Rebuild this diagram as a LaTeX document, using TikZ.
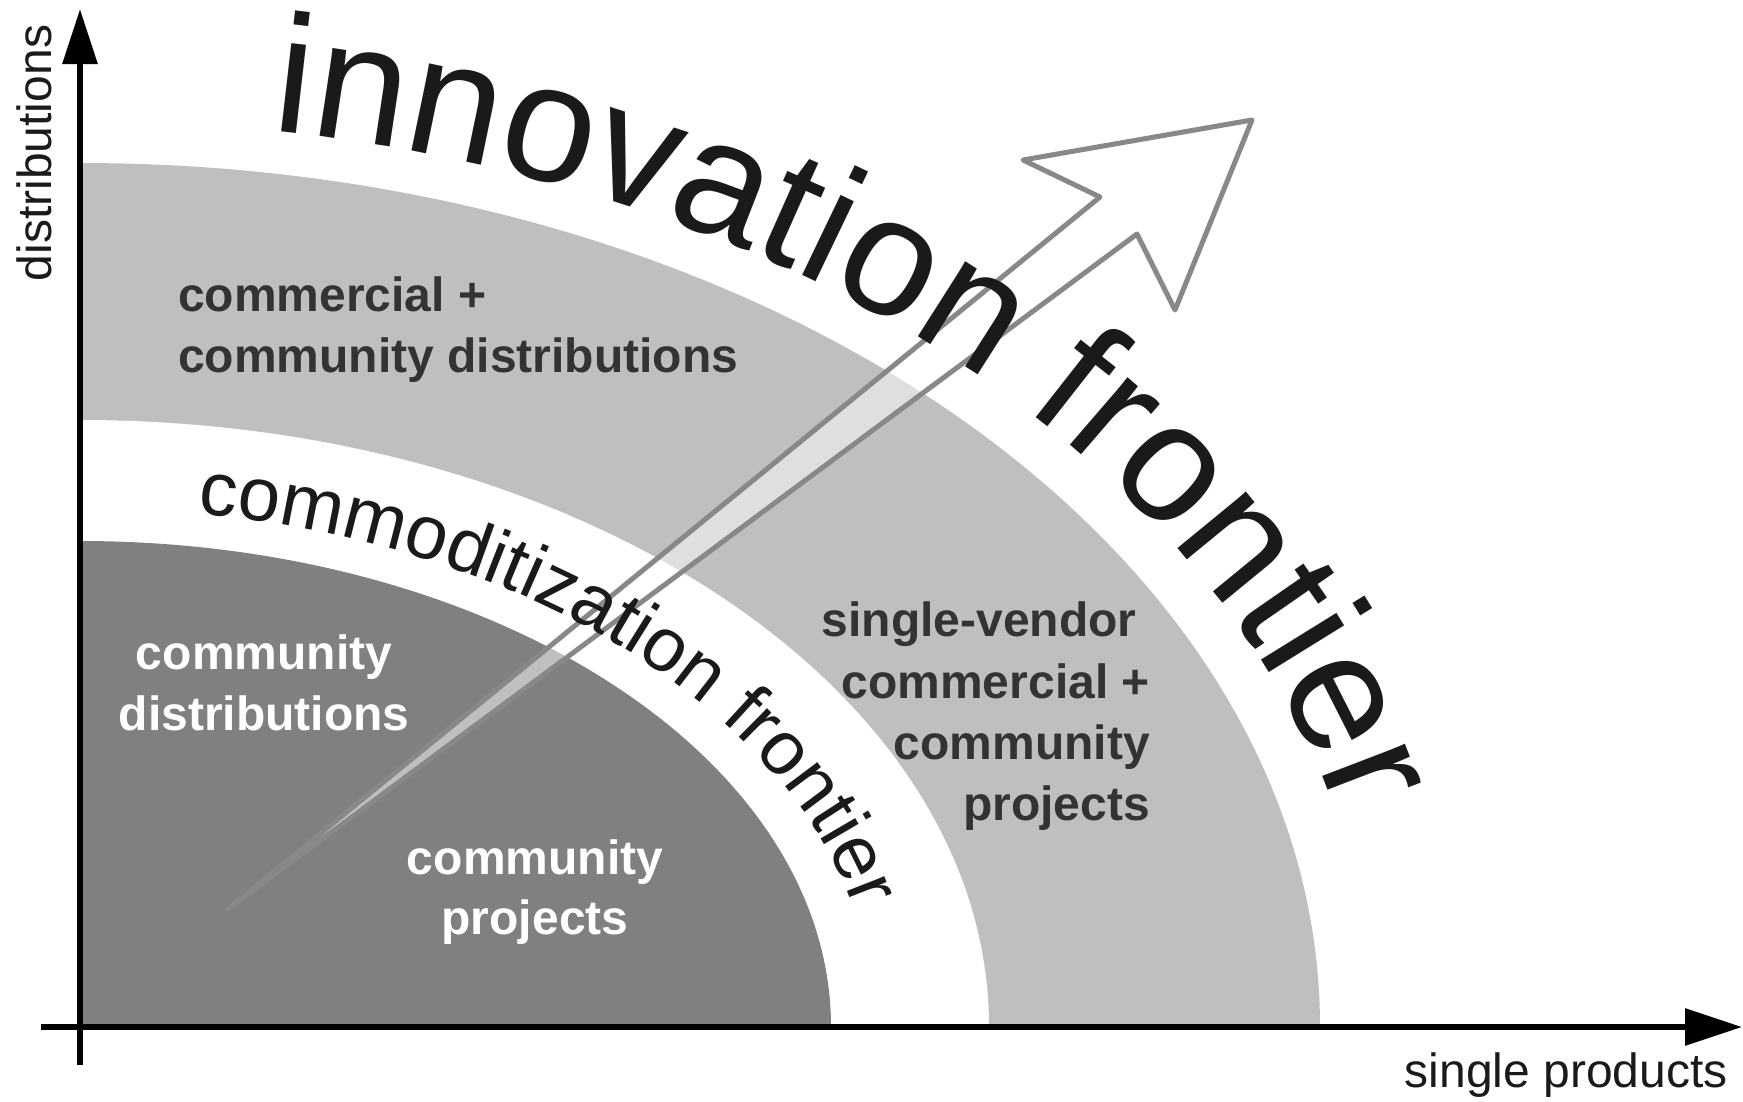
\documentclass[tikz,border=0pt]{standalone}
\usepackage{fontspec}
\setmainfont{Liberation Sans}
\usetikzlibrary{arrows.meta,decorations.text}
\definecolor{lightg}{HTML}{BFBFBF}
\definecolor{darkg}{HTML}{808080}
\definecolor{txtg}{HTML}{333333}
\definecolor{arrg}{HTML}{888888}
\definecolor{bigtxt}{HTML}{1A1A1A}
\newcommand\innofont{\fontsize{168}{168}\selectfont}
\newcommand\commfont{\fontsize{76}{76}\selectfont}
\begin{document}
\begin{tikzpicture}[x=1pt,y=1pt,
  lab/.style={font=\fontsize{48}{58}\selectfont\bfseries, text=txtg, inner sep=0pt},
  wlab/.style={lab, text=white},
  axislabel/.style={font=\fontsize{48}{48}\selectfont, text=bigtxt, inner sep=0pt},
  axisline/.style={line width=6pt, -{Triangle[length=55pt,width=34pt]}},
  arrowshape/.style={fill=white, fill opacity=0.5, draw=arrg, draw opacity=1, line width=5pt, line join=round}]
\useasboundingbox (0,-1101) rectangle (1743,0);
\coordinate (O) at (80,-1027);
% regions
\fill[lightg] (O) -- ++(1240,0) arc[start angle=0,end angle=90,x radius=1240,y radius=864] -- cycle;
\fill[white] (O) -- ++(909,0) arc[start angle=0,end angle=90,x radius=909,y radius=607] -- cycle;
\fill[darkg] (O) -- ++(751,0) arc[start angle=0,end angle=90,x radius=751,y radius=486] -- cycle;
% big arrow
\coordinate (T) at (228,-909);
\coordinate (N1) at (1100,-197);
\coordinate (B1) at (1023,-160);
\coordinate (P) at (1252,-120);
\coordinate (B2) at (1175,-310);
\coordinate (N2) at (1137,-234);
\path[arrowshape] (T) -- (N1) -- (B1) -- (P) -- (B2) -- (N2) -- cycle;
% frontier texts
\path[decorate, decoration={text along path, text align=left,
  text={|\innofont\color{bigtxt}|innovation frontier}}]
  ([shift={(80,-1027)}]81.5:1292 and 906) arc[start angle=81.5,end angle=-5,x radius=1292,y radius=906];
\path[decorate, decoration={text along path, text align=left,
  text={|\commfont\color{bigtxt}|commoditization frontier}}]
  ([shift={(80,-1027)}]81.5:795 and 519) arc[start angle=81.5,end angle=-5,x radius=795,y radius=519];
% region labels
\node[lab, anchor=base west] (l1a) at (178,-311) {commercial +};
\node[lab, anchor=base west] (l1b) at (178,-372) {community distributions};
\node[lab, anchor=base east] (l2a) at (1150,-636) {single-vendor\hspace*{0.278em}};
\node[lab, anchor=base east] (l2b) at (1150,-698) {commercial +};
\node[lab, anchor=base east] (l2c) at (1150,-759) {community};
\node[lab, anchor=base east] (l2d) at (1150,-820) {projects};
\node[wlab, anchor=base] (l3a) at (264,-669) {community};
\node[wlab, anchor=base] (l3b) at (264,-730) {distributions};
\node[wlab, anchor=base] (l4a) at (535,-874) {community};
\node[wlab, anchor=base] (l4b) at (535,-934) {projects};
% axes
\coordinate (ybot) at (80,-1065);
\coordinate (ytop) at (80,-9);
\coordinate (xleft) at (41,-1027);
\coordinate (xright) at (1742,-1027);
\draw[axisline] (ybot) -- (ytop);
\draw[axisline, -{Triangle[length=57pt,width=36pt]}] (xleft) -- (xright);
\node[axislabel, rotate=90, anchor=base] (ylab) at (51,-153) {distributions};
\node[axislabel, anchor=base east] (xlab) at (1728,-1087) {single products};
\end{tikzpicture}
\end{document}
